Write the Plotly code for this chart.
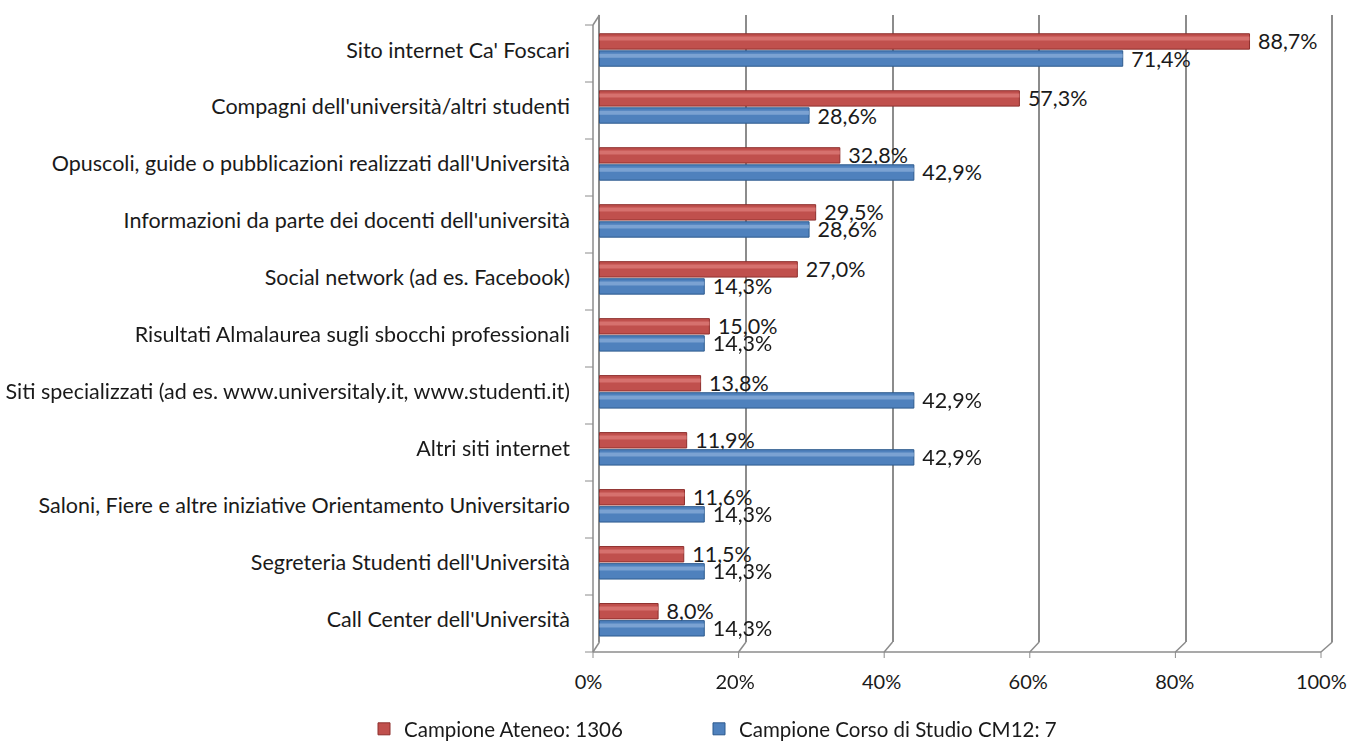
import plotly.graph_objects as go

categories = [
    "Sito internet Ca' Foscari",
    "Compagni dell'università/altri studenti",
    "Opuscoli, guide o pubblicazioni realizzati dall'Università",
    "Informazioni da parte dei docenti dell'università",
    "Social network (ad es. Facebook)",
    "Risultati Almalaurea sugli sbocchi professionali",
    "Siti specializzati (ad es. www.universitaly.it, www.studenti.it)",
    "Altri siti internet",
    "Saloni, Fiere e altre iniziative Orientamento Universitario",
    "Segreteria Studenti dell'Università",
    "Call Center dell'Università",
]
ateneo = [88.7, 57.3, 32.8, 29.5, 27.0, 15.0, 13.8, 11.9, 11.6, 11.5, 8.0]
corso = [71.4, 28.6, 42.9, 28.6, 14.3, 14.3, 42.9, 42.9, 14.3, 14.3, 14.3]
x_ticks = [0, 20, 40, 60, 80, 100]
x_tick_labels = ["0%", "20%", "40%", "60%", "80%", "100%"]
series_names = ["Campione Ateneo: 1306", "Campione Corso di Studio CM12: 7"]

FONT = "Lato"
FS = 21.5
W, H = 1348, 742
L, R, T, B = 598, 1336, 15, 642
XR = [-0.2, 100.5]


def fmt(v):
    return f"{v:.1f}".replace(".", ",") + "%"


def px(x):
    return (x - L) / (R - L)


def py(y):
    return (B - y) / (B - T)


def xpix(v):
    return L + (v - XR[0]) / (XR[1] - XR[0]) * (R - L)


fig = go.Figure()

specs = [
    (ateneo, series_names[0], "#C0504D", "#8E2F2D", "#DB7A77", -0.285, "legend"),
    (corso, series_names[1], "#4F81BD", "#2D5A8E", "#86ABD8", 0.015, "legend2"),
]
for vals, name, col, dark, light, off, leg in specs:
    fig.add_trace(go.Bar(
        y=categories, x=vals, orientation="h", name=name,
        marker=dict(color=col, line=dict(color=dark, width=1)),
        offset=off, width=0.27,
        text=[fmt(v) for v in vals], textposition="outside",
        texttemplate=" %{text}",
        constraintext="none",
        textfont=dict(family=FONT, size=FS, color="#1a1a1a"),
        cliponaxis=False, showlegend=True, legend=leg,
    ))
    fig.add_trace(go.Bar(
        y=categories, x=vals, orientation="h", name=name + " hl",
        marker=dict(color=light, line=dict(width=0)),
        offset=off + 0.05, width=0.07, opacity=0.8,
        showlegend=False, hoverinfo="skip",
    ))

shapes = []
gcol = "#8c8c8c"


def seg(x0, y0, x1, y1, w=1.5):
    shapes.append(dict(type="line", xref="paper", yref="paper", layer="below",
                       x0=px(x0), y0=py(y0), x1=px(x1), y1=py(y1),
                       line=dict(color=gcol, width=w)))


seg(593, 25, 593, 652)
seg(593, 25, xpix(0), 15)
seg(593, 652, 1321, 652)
for i, t in enumerate(x_ticks):
    fx = 593 + i * (1321 - 593) / 5
    seg(fx, 652, xpix(t), 642)
    seg(fx, 652, fx, 658, 1)
for i in range(12):
    yy = 25 + i * 57
    seg(585, yy, 593, yy, 1)

leg_common = dict(orientation="h", xanchor="left", y=py(729), yanchor="middle",
                  font=dict(family=FONT, size=20.5), itemwidth=30,
                  bgcolor="rgba(0,0,0,0)")
fig.update_layout(
    width=W, height=H,
    margin=dict(l=L, r=W - R, t=T, b=H - B, autoexpand=False),
    paper_bgcolor="white", plot_bgcolor="white",
    barmode="overlay",
    font=dict(family=FONT, size=FS, color="#1a1a1a"),
    shapes=shapes,
    legend=dict(x=px(364), **leg_common),
    legend2=dict(x=px(699), **leg_common),
    showlegend=True,
)
fig.update_xaxes(
    range=XR, tickvals=x_ticks, ticktext=x_tick_labels,
    showgrid=True, gridcolor=gcol, gridwidth=1.5, zeroline=False,
    showline=False, ticks="", ticklabelstandoff=26, ticklabelshift=-11,
    automargin=False, ticklabeloverflow="allow",
    tickfont=dict(family=FONT, size=20, color="#1a1a1a"),
)
fig.update_yaxes(
    type="category", categoryorder="array", categoryarray=categories,
    range=[10.39, -0.614], showgrid=False, zeroline=False, showline=False,
    ticks="", ticklabelstandoff=27, automargin=False,
    tickfont=dict(family=FONT, size=FS, color="#1a1a1a"),
)

fig.write_html("out.html", post_script="document.body.style.margin='0';",
               config={"displayModeBar": False})
